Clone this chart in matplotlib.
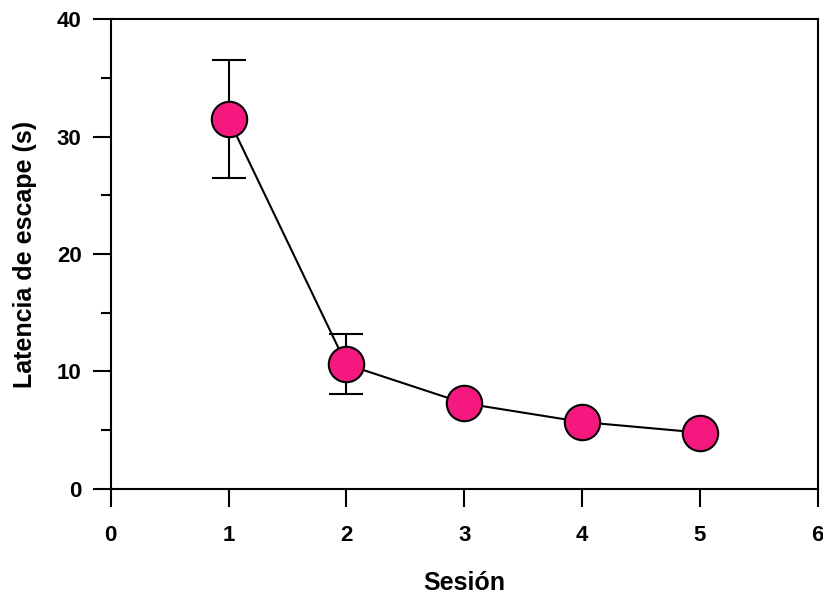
import matplotlib.pyplot as plt

sesion = [1, 2, 3, 4, 5]
latencia = [31.5, 10.6, 7.3, 5.7, 4.8]
error = [5.0, 2.55, 0.3, 0.3, 0.3]

xticks = [0, 1, 2, 3, 4, 5, 6]
yticks = [0, 10, 20, 30, 40]
yminor = [5, 15, 25, 35]


def main():
	plt.rcParams['font.family'] = ['Liberation Sans', 'DejaVu Sans']
	plt.rcParams['font.weight'] = 'bold'

	fig = plt.figure(figsize=(8.23, 5.98), dpi=100)
	ax = fig.add_axes([0.1345, 0.1823, 0.859, 0.7859])

	# error bars under the markers
	ax.errorbar(sesion, latencia, yerr=error, fmt='none', ecolor='black',
		elinewidth=1.5, capsize=12, capthick=1.5, zorder=2)
	ax.plot(sesion, latencia, color='black', linewidth=1.5, marker='o', markersize=25.5,
		markerfacecolor='#F5197F', markeredgecolor='black', markeredgewidth=1.5,
		zorder=3)

	ax.set_xlim(0, 6)
	ax.set_ylim(0, 40)
	ax.set_xticks(xticks)
	ax.set_yticks(yticks)
	ax.set_yticks(yminor, minor=True)

	for s in ax.spines.values():
		s.set_linewidth(1.5)

	ax.tick_params(axis='both', which='major', direction='out', length=13, width=1.5, labelsize=16)
	ax.tick_params(axis='y', which='minor', direction='out', length=7, width=1.5)
	ax.tick_params(axis='x', pad=13)
	ax.tick_params(axis='y', pad=8)

	ax.set_xlabel('Sesión', fontsize=18, fontweight='bold', labelpad=18)
	ax.set_ylabel('Latencia de escape (s)', fontsize=18, fontweight='bold', labelpad=14)

	fig.savefig('out.png', dpi=100)


if __name__ == "__main__":
	main()
